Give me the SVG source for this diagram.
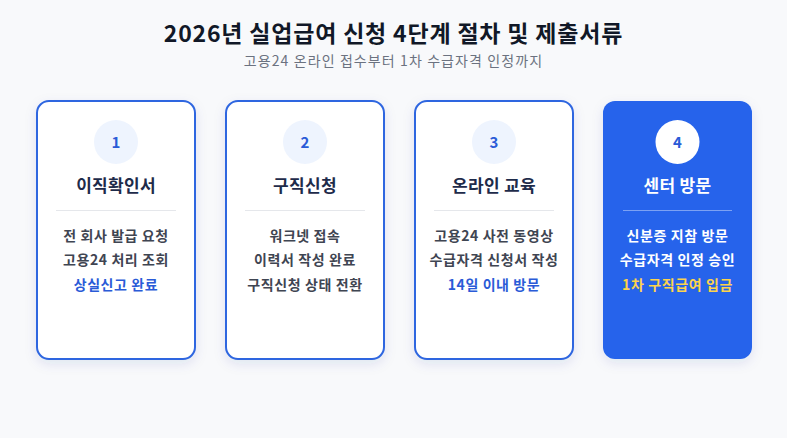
<svg xmlns="http://www.w3.org/2000/svg" width="787" height="438" viewBox="0 0 787 438">
<defs>
<filter id="sh" x="-20%" y="-20%" width="140%" height="140%">
<feDropShadow dx="0" dy="4" stdDeviation="6" flood-color="#1e3a8a" flood-opacity="0.10"/>
</filter>
<style>
text{font-family:"Noto Sans CJK KR","Noto Sans",sans-serif;text-anchor:middle}
.card{fill:#ffffff;stroke:#2f66e0;stroke-width:2}
.cardA{fill:#2563eb}
.circ{fill:#eef4fe}
.num{font-size:15px;font-weight:700;fill:#2a5bd7}
.ttl{font-size:17px;font-weight:700;fill:#1e2b4a;letter-spacing:0.3px}
.div{stroke:#e5e7eb;stroke-width:1}
.body{font-size:14px;font-weight:700;fill:#3f4552;letter-spacing:0.6px}
.hl{font-size:14px;font-weight:700;fill:#2a5bd7;letter-spacing:0.6px}
</style>
</defs>
<rect width="787" height="438" fill="#f8f9fb"/>
<text x="393.5" y="42" style="font-size:23px;font-weight:700;fill:#111827;letter-spacing:0.8px">2026년 실업급여 신청 4단계 절차 및 제출서류</text>
<text x="393.5" y="66" style="font-size:14px;fill:#6b7280;letter-spacing:1.1px">고용24 온라인 접수부터 1차 수급자격 인정까지</text>

<g id="step1">
<rect class="card" x="37" y="101" width="158" height="258" rx="12" filter="url(#sh)"/>
<circle class="circ" cx="116" cy="142" r="22"/>
<text class="num" x="116" y="147.5">1</text>
<text class="ttl" x="116" y="192">이직확인서</text>
<line class="div" x1="56" y1="210.5" x2="176" y2="210.5"/>
<text class="body" x="116" y="241">전 회사 발급 요청</text>
<text class="body" x="116" y="264.5">고용24 처리 조회</text>
<text class="hl" x="116" y="289.5">상실신고 완료</text>
</g>

<g id="step2">
<rect class="card" x="226" y="101" width="158" height="258" rx="12" filter="url(#sh)"/>
<circle class="circ" cx="305" cy="142" r="22"/>
<text class="num" x="305" y="147.5">2</text>
<text class="ttl" x="305" y="192">구직신청</text>
<line class="div" x1="245" y1="210.5" x2="365" y2="210.5"/>
<text class="body" x="305" y="241">워크넷 접속</text>
<text class="body" x="305" y="264.5">이력서 작성 완료</text>
<text class="body" x="305" y="289.5">구직신청 상태 전환</text>
</g>

<g id="step3">
<rect class="card" x="415" y="101" width="158" height="258" rx="12" filter="url(#sh)"/>
<circle class="circ" cx="494" cy="142" r="22"/>
<text class="num" x="494" y="147.5">3</text>
<text class="ttl" x="494" y="192">온라인 교육</text>
<line class="div" x1="434" y1="210.5" x2="554" y2="210.5"/>
<text class="body" x="494" y="241">고용24 사전 동영상</text>
<text class="body" x="494" y="264.5">수급자격 신청서 작성</text>
<text class="hl" x="494" y="289.5">14일 이내 방문</text>
</g>

<g id="step4">
<rect class="cardA" x="603" y="101" width="149" height="258" rx="12" filter="url(#sh)"/>
<circle cx="677.5" cy="142" r="22" fill="#ffffff"/>
<text class="num" x="677.5" y="147.5">4</text>
<text class="ttl" x="677.5" y="192" style="fill:#ffffff">센터 방문</text>
<line x1="623" y1="210.5" x2="732" y2="210.5" stroke="#ffffff" stroke-opacity="0.4" stroke-width="1"/>
<text class="body" x="677.5" y="241" style="fill:#ffffff">신분증 지참 방문</text>
<text class="body" x="677.5" y="264.5" style="fill:#ffffff">수급자격 인정 승인</text>
<text class="body" x="677.5" y="289.5" style="fill:#fcd34d">1차 구직급여 입금</text>
</g>

<g id="connectors"></g>
</svg>
